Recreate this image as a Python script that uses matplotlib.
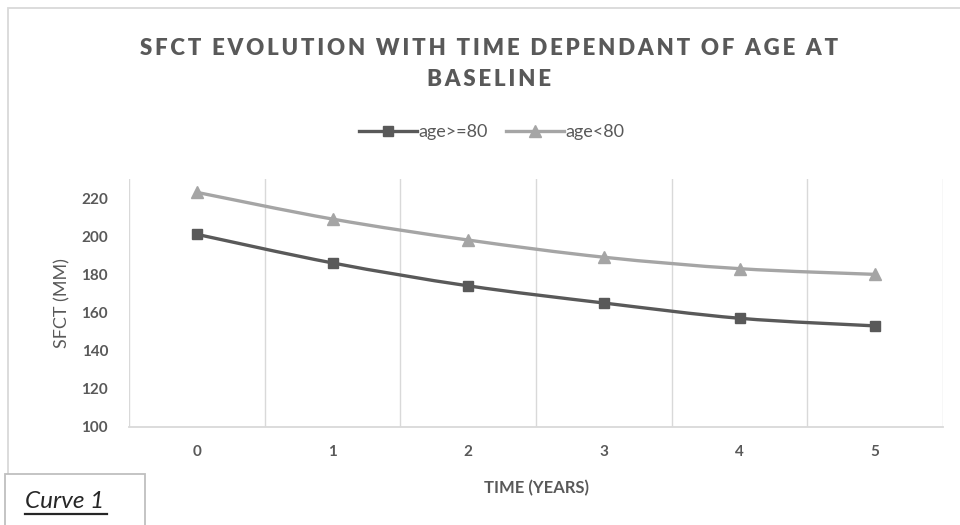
import numpy as np
import matplotlib
matplotlib.use('Agg')
import matplotlib.pyplot as plt
from matplotlib.path import Path
from matplotlib.patches import PathPatch, Rectangle
from matplotlib.lines import Line2D

plt.rcParams['font.family'] = ['Lato', 'DejaVu Sans']

# data
years = [0, 1, 2, 3, 4, 5]
age_ge80 = [201, 186, 174, 165, 157, 153]
age_lt80 = [223, 209, 198, 189, 183, 180]
series_names = ['age>=80', 'age<80']

DARK = '#595959'
LIGHT = '#a5a5a5'
GRID = '#d9d9d9'
TXT = '#595959'


def smooth_path(xs, ys):
    # excel-like smoothed line, drawn as cubic bezier segments through the points
    pts = np.column_stack([xs, ys]).astype(float)
    n = len(pts)
    verts = [pts[0]]
    codes = [Path.MOVETO]
    for i in range(n - 1):
        p0 = pts[i - 1] if i > 0 else pts[i]
        p1 = pts[i]
        p2 = pts[i + 1]
        p3 = pts[i + 2] if i + 2 < n else pts[i + 1]
        c1 = p1 + (p2 - p0) / 6.0
        c2 = p2 - (p3 - p1) / 6.0
        verts += [c1, c2, p2]
        codes += [Path.CURVE4] * 3
    return Path(verts, codes)


fig = plt.figure(figsize=(9.6, 5.25), dpi=100)

# outer chart border
fig.add_artist(Rectangle((8 / 960, -0.1), 1.2, 1 - 8 / 525 + 0.1, transform=fig.transFigure,
                         fill=False, ec=GRID, lw=1.3))

ax = fig.add_axes([129 / 960, 1 - 427 / 525, 814 / 960, 248 / 525])

for vals, col, mk, ms in [(age_ge80, DARK, 's', 7.5), (age_lt80, LIGHT, '^', 8)]:
    ax.add_patch(PathPatch(smooth_path(years, vals), fill=False, ec=col, lw=2.4,
                           capstyle='round', zorder=3))
    ax.plot(years, vals, ls='none', marker=mk, ms=ms, color=col, zorder=4)

ax.set_xlim(-0.5, 5.5)
ax.set_ylim(100, 230)
ax.set_yticks(np.arange(100, 221, 20))
ax.set_xticks(years)
ax.set_xticks(np.arange(-0.5, 5.6, 1), minor=True)
ax.grid(True, which='minor', axis='x', color=GRID, lw=1)
ax.tick_params(which='both', length=0)
ax.tick_params(axis='y', pad=15, labelsize=11, labelcolor=TXT)
ax.tick_params(axis='x', pad=13, labelsize=11, labelcolor=TXT)
for lab in ax.get_xticklabels() + ax.get_yticklabels():
    lab.set_fontweight('bold')
for s in ['top', 'right', 'left']:
    ax.spines[s].set_visible(False)
ax.spines['bottom'].set_color(GRID)
ax.spines['bottom'].set_linewidth(1.3)

ax.set_xlabel('TIME (YEARS)', fontsize=12, color=TXT, fontweight='bold', labelpad=15)
ax.set_ylabel('SFCT (MM)', fontsize=13, color=TXT, labelpad=8)

title = 'SFCT EVOLUTION WITH TIME DEPENDANT OF AGE AT\nBASELINE'
spaced = '\n'.join('\u2009'.join(line) for line in title.split('\n'))
fig.text(489 / 960, 1 - 64 / 525, spaced, ha='center', va='center', fontsize=16,
         fontweight='heavy', color=TXT, linespacing=1.6)

handles = [Line2D([], [], color=DARK, lw=2.4, marker='s', ms=7.5),
           Line2D([], [], color=LIGHT, lw=2.4, marker='^', ms=8)]
fig.legend(handles, series_names, loc='center', bbox_to_anchor=(492 / 960, 1 - 132 / 525),
           ncol=2, frameon=False, fontsize=13, labelcolor=TXT, handlelength=3.2,
           handletextpad=0.1, columnspacing=1.0)

# "Curve 1" caption box
fig.add_artist(Rectangle((5 / 960, -0.1), 140 / 960, 0.1 + 51 / 525, transform=fig.transFigure,
                         fc='white', ec='#bfbfbf', lw=1.3))
fig.text(25 / 960, 1 - 502 / 525, 'Curve 1', fontsize=17.5, style='italic', color='#262626',
         va='center', ha='left')
fig.add_artist(Line2D([25 / 960, 107 / 960], [1 - 514 / 525, 1 - 514 / 525],
                      transform=fig.transFigure, color='#262626', lw=1.6))

fig.savefig('out.png', dpi=100)
